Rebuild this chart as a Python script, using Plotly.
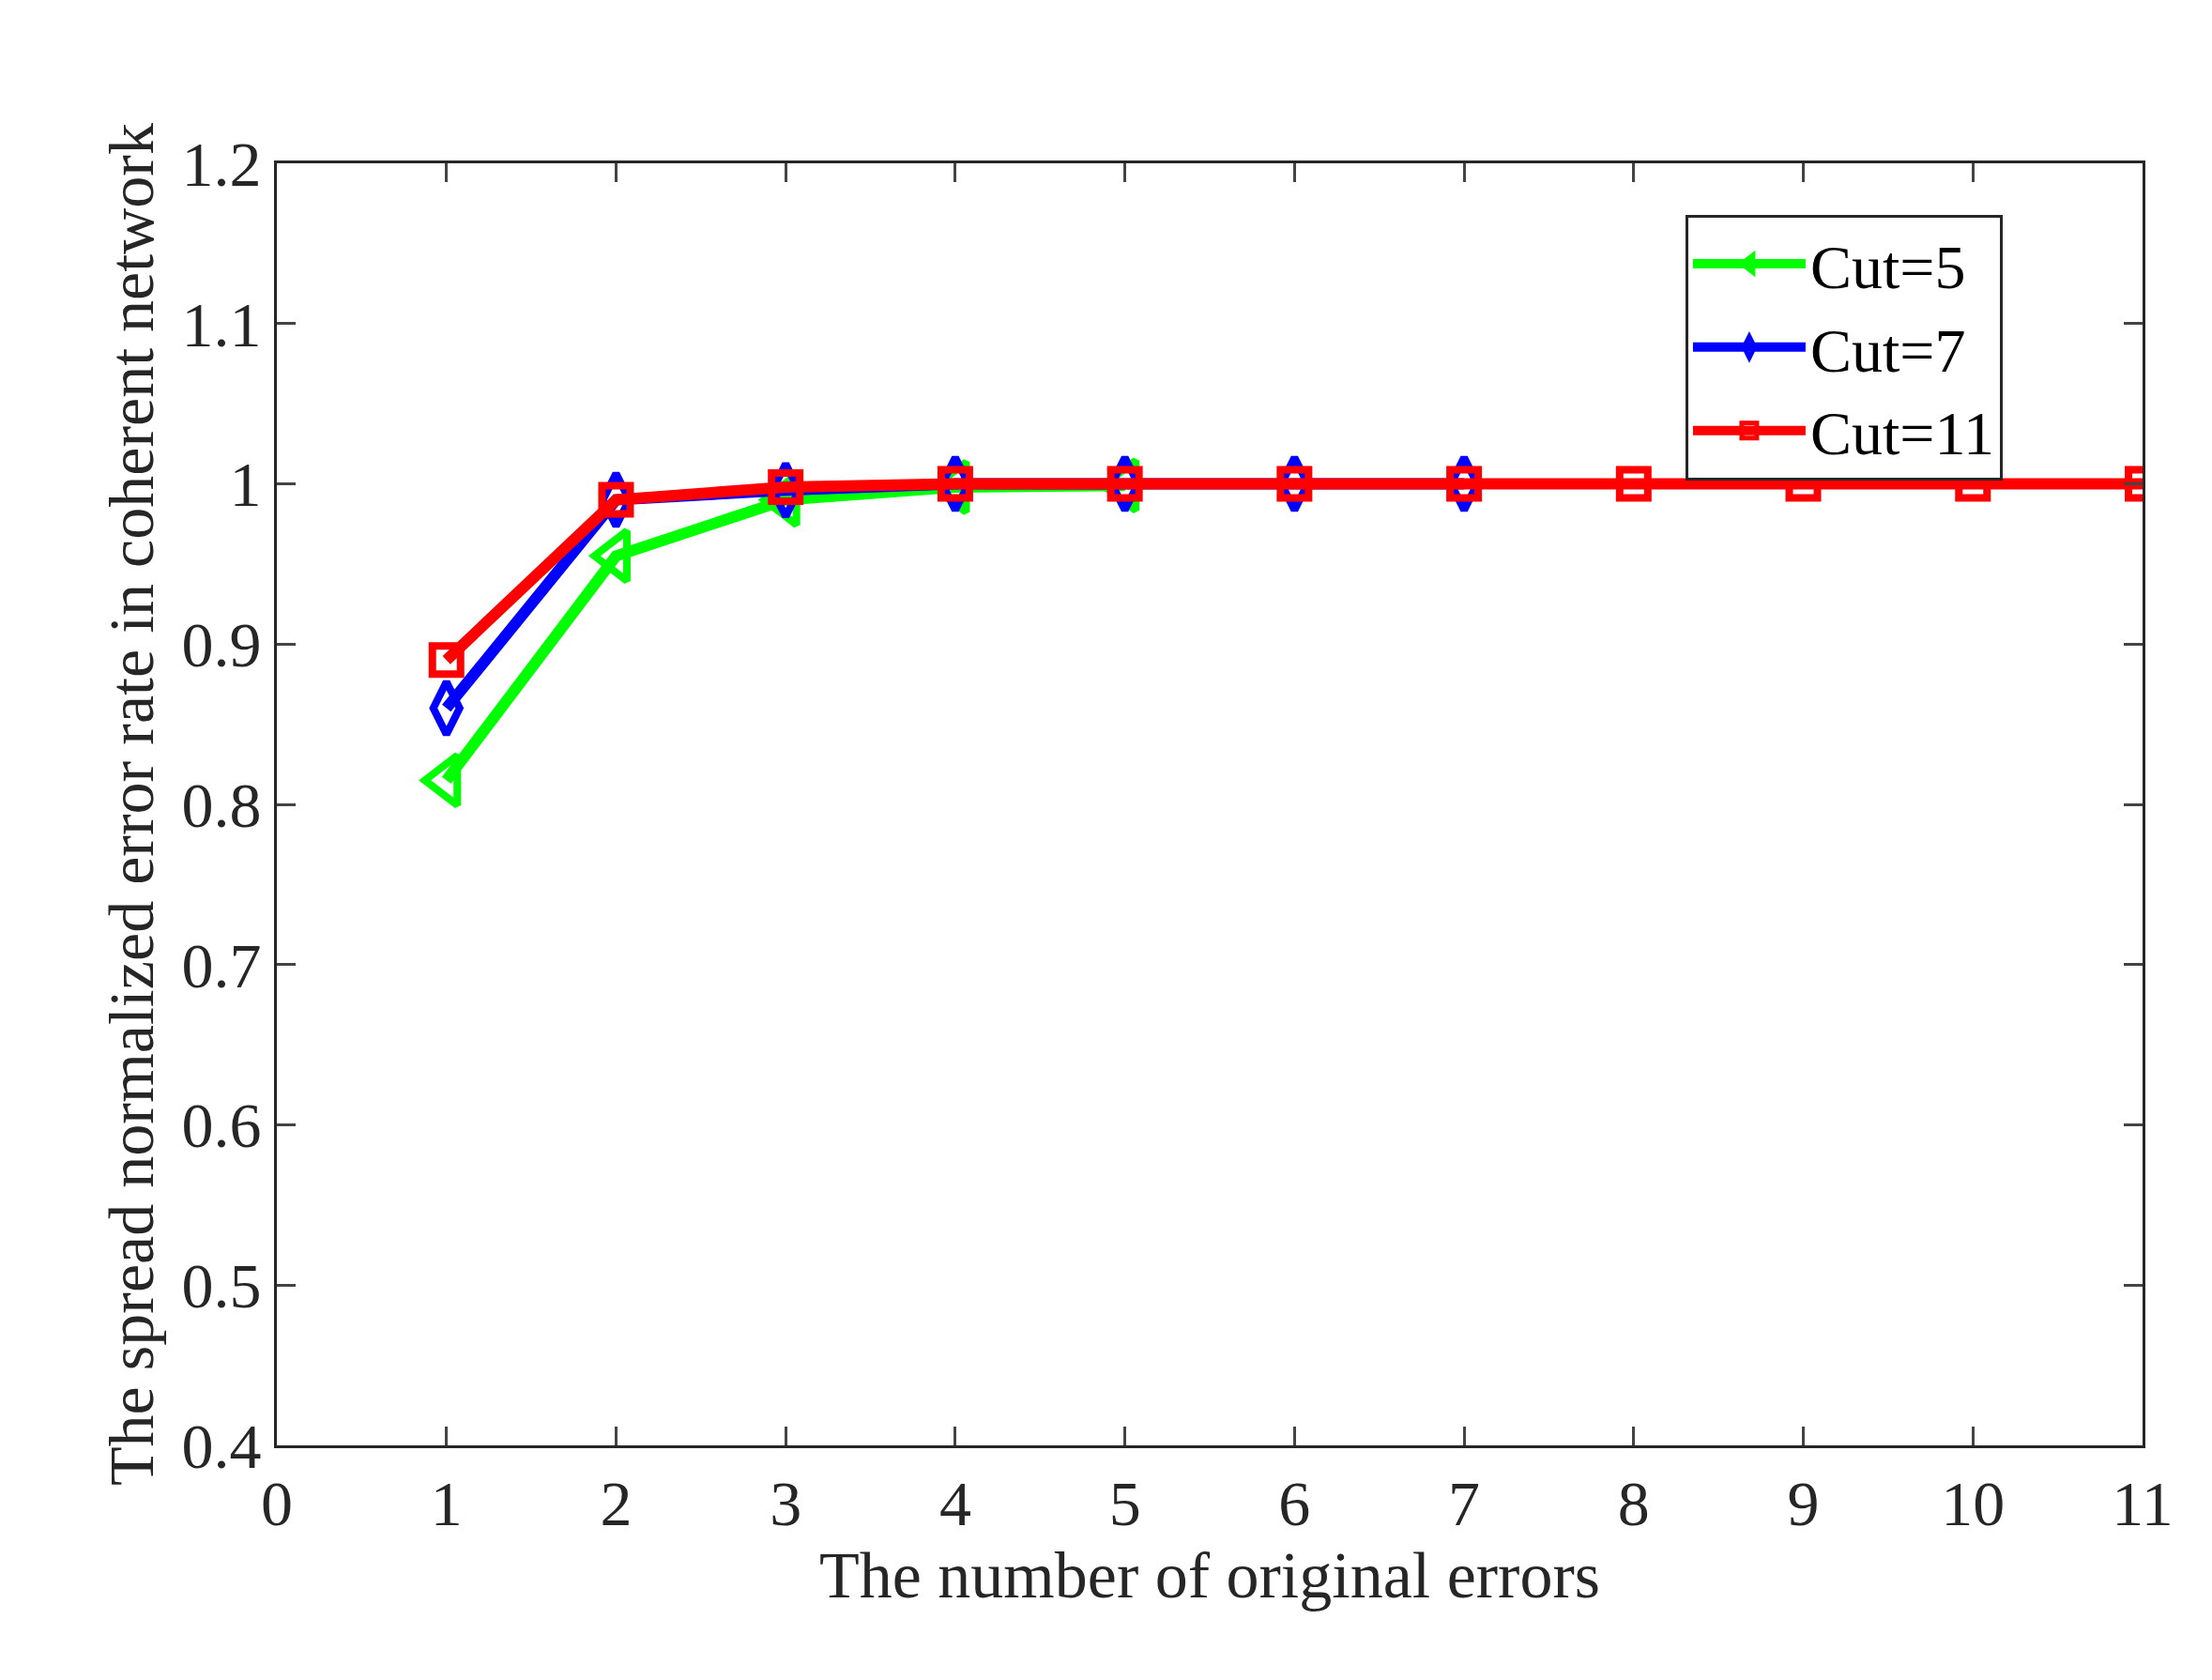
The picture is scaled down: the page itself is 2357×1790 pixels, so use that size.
import plotly.graph_objects as go

x5 = [1, 2, 3, 4, 5]
y5 = [0.815, 0.955, 0.990, 0.998, 0.999]
x7 = [1, 2, 3, 4, 5, 6, 7]
y7 = [0.860, 0.990, 0.996, 1.000, 1.000, 1.000, 1.000]
x11 = list(range(1, 12))
y11 = [0.890, 0.990, 0.998, 1.000, 1.000, 1.000, 1.000, 1.000, 1.000, 1.000, 1.000]
xticks = list(range(0, 12))
yticks = [0.4, 0.5, 0.6, 0.7, 0.8, 0.9, 1.0, 1.1, 1.2]
ytick_text = ["0.4", "0.5", "0.6", "0.7", "0.8", "0.9", "1", "1.1", "1.2"]

fig = go.Figure()
fig.add_trace(go.Scatter(x=x5, y=y5, name="Cut=5", mode="lines+markers",
    line=dict(color="#00ff00", width=12),
    marker=dict(symbol="triangle-left-open", size=46, color="#00ff00", line=dict(width=8))))
fig.add_trace(go.Scatter(x=x7, y=y7, name="Cut=7", mode="lines+markers",
    line=dict(color="#0000ff", width=12),
    marker=dict(symbol="diamond-tall-open", size=40, color="#0000ff", line=dict(width=8))))
fig.add_trace(go.Scatter(x=x11, y=y11, name="Cut=11", mode="lines+markers",
    line=dict(color="#ff0000", width=12),
    marker=dict(symbol="square-open", size=30, color="#ff0000", line=dict(width=8))))

font = "Liberation Serif"
fig.update_layout(
    width=2357, height=1790, paper_bgcolor="white", plot_bgcolor="white",
    margin=dict(l=287, r=82, t=166, b=258),
    font=dict(family=font, size=68, color="#262626"),
    legend=dict(x=0.755, y=0.96, xanchor="left", yanchor="top",
                bordercolor="#262626", borderwidth=3, font=dict(size=66, family=font, color="black"),
                bgcolor="white", itemwidth=120, tracegroupgap=0),
    xaxis=dict(range=[0, 11], tickvals=xticks, showgrid=False, zeroline=False,
               showline=True, linecolor="#262626", linewidth=3, mirror="ticks",
               ticks="inside", ticklen=20, tickwidth=3,
               title=dict(text="The number of original errors", font=dict(size=70), standoff=12)),
    yaxis=dict(range=[0.4, 1.2], tickvals=yticks, ticktext=ytick_text, showgrid=False, zeroline=False,
               showline=True, linecolor="#262626", linewidth=3, mirror="ticks",
               ticks="inside", ticklen=20, tickwidth=3,
               title=dict(text="The spread normalized error rate in coherent network", font=dict(size=68), standoff=8)),
)
fig.write_html("out.html")
